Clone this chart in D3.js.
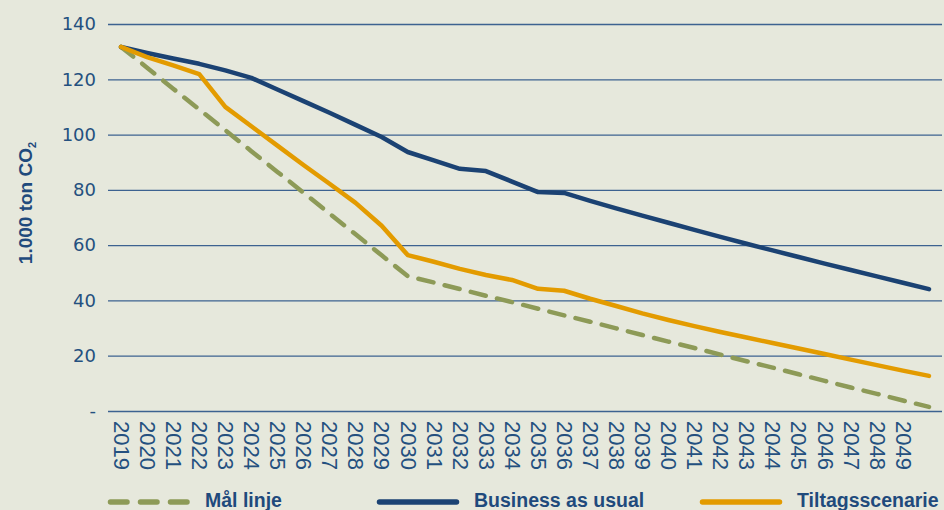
<!DOCTYPE html>
<html>
<head>
<meta charset="utf-8">
<script src="https://cdn.jsdelivr.net/npm/d3@7"></script>
<style>
  html, body { margin: 0; padding: 0; background: #e6e8dc; }
  svg { display: block; }
  .tick text { fill: #24507f; }
</style>
</head>
<body>
<div id="chart"></div>
<script>
const years = d3.range(2019, 2051);
const yearLabels = d3.range(2019, 2050);
const yTicks = [0, 20, 40, 60, 80, 100, 120, 140];

const maalLinje = [131.7, 124.2, 116.6, 109.1, 101.6, 94.0, 86.5, 79.0, 71.4, 63.9, 56.3, 48.8,
  46.5, 44.1, 41.7, 39.4, 37.0, 34.6, 32.3, 29.9, 27.5, 25.1, 22.8, 20.4, 18.0, 15.7, 13.3, 10.9, 8.5, 6.2, 3.8, 1.5];
const businessAsUsual = [131.7, 129.5, 127.5, 125.6, 123.2, 120.5, 116.3, 112.1, 107.9, 103.5, 99.1, 93.7,
  90.7, 87.6, 86.8, 83.0, 79.2, 78.9, 76.0, 73.3, 70.7, 68.1, 65.5, 63.0, 60.5, 58.1, 55.7, 53.3, 51.0, 48.7, 46.4, 44.1];
const tiltagsscenarie = [131.7, 128.0, 125.0, 121.9, 110.0, 103.0, 96.0, 89.0, 82.2, 75.3, 67.0, 56.4,
  54.0, 51.4, 49.2, 47.4, 44.2, 43.5, 40.6, 38.0, 35.3, 32.9, 30.7, 28.6, 26.6, 24.6, 22.6, 20.6, 18.6, 16.6, 14.6, 12.7];

const series = [
  { name: "Mål linje", values: maalLinje, color: "#8d9a57", dash: true },
  { name: "Business as usual", values: businessAsUsual, color: "#1b4273", dash: false },
  { name: "Tiltagsscenarie", values: tiltagsscenarie, color: "#e39b00", dash: false }
];

const W = 944, H = 510;
const margin = { top: 24, right: 2, bottom: 99, left: 108 };
const width = W - margin.left - margin.right,
  height = H - margin.top - margin.bottom;

const svg = d3.select("#chart").append("svg")
  .attr("width", W)
  .attr("height", H)
  .style("background", "#e6e8dc");

const g = svg.append("g")
  .attr("transform", "translate(" + margin.left + "," + margin.top + ")");

const x = d3.scalePoint().domain(years).range([0, width]).padding(0.5);
const y = d3.scaleLinear().domain([0, 140]).range([height, 0]);

// y axis + gridlines
const yAxis = g.append("g")
  .call(d3.axisLeft(y)
    .tickValues(yTicks)
    .tickSize(-width)
    .tickPadding(12)
    .tickFormat(d => d === 0 ? "-" : d));
yAxis.select(".domain").remove();
yAxis.selectAll(".tick line")
  .attr("stroke", "#3d6290")
  .attr("stroke-width", 1.3);
yAxis.selectAll(".tick text")
  .attr("font-family", "DejaVu Sans, sans-serif")
  .attr("font-size", 18)
  .attr("x", -12);

// x axis (rotated year labels)
const xAxis = g.append("g")
  .attr("transform", "translate(0," + height + ")")
  .call(d3.axisBottom(x).tickValues(yearLabels).tickSize(0).tickPadding(0));
xAxis.select(".domain").remove();
xAxis.selectAll(".tick text")
  .attr("font-family", "Liberation Sans, Arial, sans-serif")
  .attr("font-size", 22)
  .attr("text-anchor", "start")
  .attr("transform", "rotate(90)")
  .attr("x", 10)
  .attr("y", 0)
  .attr("dy", "0.35em");

// y title
const yTitle = svg.append("text")
  .attr("transform", "translate(32,203) rotate(-90)")
  .attr("text-anchor", "middle")
  .attr("font-family", "Liberation Sans, Arial, sans-serif")
  .attr("font-weight", "bold")
  .attr("font-size", 19)
  .attr("fill", "#1f4a7c");
yTitle.append("tspan").text("1.000 ton CO");
yTitle.append("tspan").attr("font-size", 11).attr("dy", 4).text("2");

// lines
const line = d3.line()
  .x((d, i) => x(years[i]))
  .y(d => y(d));

g.selectAll(".series")
  .data(series)
  .enter().append("path")
  .attr("class", "series")
  .attr("d", d => line(d.values))
  .attr("fill", "none")
  .attr("stroke", d => d.color)
  .attr("stroke-width", 4.5)
  .attr("stroke-linejoin", "round")
  .attr("stroke-linecap", "round")
  .attr("stroke-dasharray", d => d.dash ? "15.5 11.5" : null);

// legend
const legendX = [108, 377, 700];
const legend = svg.selectAll(".legend")
  .data(series)
  .enter().append("g")
  .attr("class", "legend")
  .attr("transform", (d, i) => "translate(" + legendX[i] + ",502)");

legend.append("line")
  .attr("x1", 2.5)
  .attr("x2", 79.5)
  .attr("y1", 0)
  .attr("y2", 0)
  .attr("stroke", d => d.color)
  .attr("stroke-width", 5.5)
  .attr("stroke-linecap", "round")
  .attr("stroke-dasharray", d => d.dash ? "16.5 13.5" : null);

legend.append("text")
  .attr("x", 97)
  .attr("y", 5)
  .attr("font-family", "Liberation Sans, Arial, sans-serif")
  .attr("font-weight", "bold")
  .attr("font-size", 19.5)
  .attr("fill", "#1f4a7c")
  .text(d => d.name);
</script>
</body>
</html>
